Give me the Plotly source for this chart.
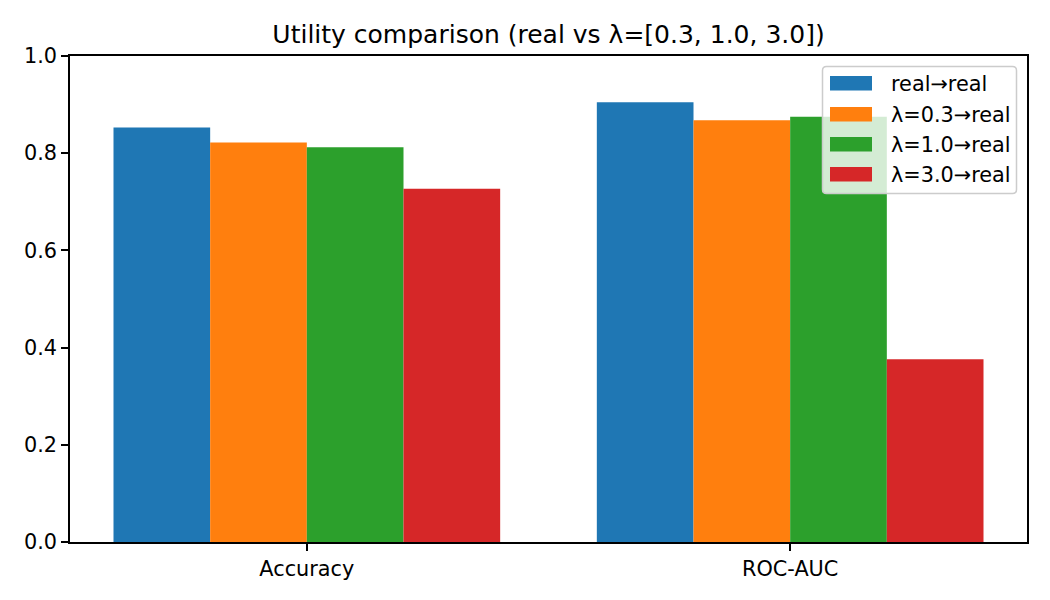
import plotly.graph_objects as go

categories = ["Accuracy", "ROC-AUC"]
series_names = ["real→real", "λ=0.3→real", "λ=1.0→real", "λ=3.0→real"]
real_real = [0.853, 0.905]
lam_03 = [0.822, 0.868]
lam_10 = [0.812, 0.875]
lam_30 = [0.727, 0.376]
colors = ["#1f77b4", "#ff7f0e", "#2ca02c", "#d62728"]
y_ticks = [0.0, 0.2, 0.4, 0.6, 0.8, 1.0]

W, H = 1050, 600
L, R, T, B = 70, 23, 56, 58
PW, PH = W - L - R, H - T - B

def px_x(px):
    return (px - L) / PW

def px_y(py):
    return (H - B - py) / PH

fig = go.Figure()
for name, vals, col in zip(series_names, [real_real, lam_03, lam_10, lam_30], colors):
    fig.add_trace(go.Bar(x=categories, y=vals, name=name, showlegend=False,
                         marker=dict(color=col, line=dict(width=0))))

font = "DejaVu Sans, sans-serif"
fs = 20.8

# matplotlib-style legend (frame, wide patch handles, labels)
shapes = []
annotations = []
x0, x1, y0, y1 = 822.5, 1016.5, 66.5, 193.5
r = 4
path = (f"M {px_x(x0 + r)},{px_y(y0)} L {px_x(x1 - r)},{px_y(y0)} "
        f"Q {px_x(x1)},{px_y(y0)} {px_x(x1)},{px_y(y0 + r)} "
        f"L {px_x(x1)},{px_y(y1 - r)} Q {px_x(x1)},{px_y(y1)} {px_x(x1 - r)},{px_y(y1)} "
        f"L {px_x(x0 + r)},{px_y(y1)} Q {px_x(x0)},{px_y(y1)} {px_x(x0)},{px_y(y1 - r)} "
        f"L {px_x(x0)},{px_y(y0 + r)} Q {px_x(x0)},{px_y(y0)} {px_x(x0 + r)},{px_y(y0)} Z")
shapes.append(dict(type="path", xref="paper", yref="paper", path=path,
                   fillcolor="rgba(255,255,255,0.8)", line=dict(color="#cccccc", width=1.5),
                   layer="above"))
row_centers = [83.3, 114.2, 144.3, 174.3]
for name, col, cy in zip(series_names, colors, row_centers):
    shapes.append(dict(type="rect", xref="paper", yref="paper",
                       x0=px_x(830), x1=px_x(872), y0=px_y(cy - 7.3), y1=px_y(cy + 7.3),
                       fillcolor=col, line=dict(width=0), layer="above"))
    annotations.append(dict(xref="paper", yref="paper", x=px_x(889), y=px_y(cy + 1),
                            xanchor="left", yanchor="middle", text=name, showarrow=False,
                            font=dict(size=fs, family=font, color="black")))

fig.update_layout(
    width=W, height=H,
    margin=dict(l=L, r=R, t=T, b=B),
    paper_bgcolor="white", plot_bgcolor="white",
    barmode="group", bargap=0.2, bargroupgap=0,
    font=dict(family=font, size=fs, color="black"),
    title=dict(text="Utility comparison (real vs λ=[0.3, 1.0, 3.0])", x=(L + PW / 2) / W,
               xanchor="center", y=1 - 34 / H, yanchor="middle",
               font=dict(size=25, family=font, color="black")),
    showlegend=False,
    shapes=shapes,
    annotations=annotations,
)
fig.update_xaxes(range=[-0.49, 1.49], showline=True, linecolor="black", linewidth=1.6, mirror=True,
                 ticks="outside", ticklen=7, tickcolor="black", tickwidth=1.6, showgrid=False,
                 tickfont=dict(size=fs, family=font, color="black"))
fig.update_yaxes(range=[0, 1.0], tickvals=y_ticks, ticktext=[f"{v:.1f}" for v in y_ticks],
                 showline=True, linecolor="black", linewidth=1.6, mirror=True,
                 ticks="outside", ticklen=7, tickcolor="black", tickwidth=1.6, showgrid=False,
                 zeroline=False, tickfont=dict(size=fs, family=font, color="black"))

fig.write_html("out.html")
